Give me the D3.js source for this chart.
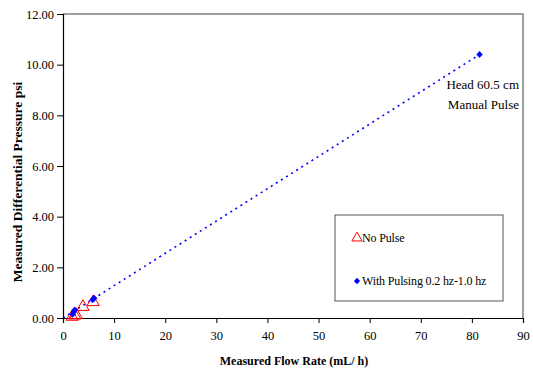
<!DOCTYPE html>
<html>
<head>
<meta charset="utf-8">
<script src="https://cdn.jsdelivr.net/npm/d3@7/dist/d3.min.js"></script>
<style>
  html, body { margin: 0; padding: 0; background: #fff; }
  svg { display: block; }
  text { font-family: "Liberation Serif", "Times New Roman", serif; fill: #000; }
</style>
</head>
<body>
<svg id="chart" width="533" height="374"></svg>
<script>
// Measured flow rate (mL/h) vs differential pressure (psi)
const noPulseX = [1.8, 2.3, 2.6, 3.9, 5.9];
const noPulseY = [0.05, 0.10, 0.12, 0.44, 0.63];
const pulseX = [1.9, 2.1, 2.3, 5.8, 6.1, 81.5];
const pulseY = [0.15, 0.24, 0.32, 0.72, 0.78, 10.40];
// Linear trend through the pulsed series
const trendX = [0, 81.5];
const trendY = [0, 10.40];

const xTicks = [0, 10, 20, 30, 40, 50, 60, 70, 80, 90];
const yTicks = [0, 2, 4, 6, 8, 10, 12];

const legendLabels = ["No Pulse", "With Pulsing 0.2 hz-1.0 hz"];
const noteLines = ["Head 60.5 cm", "Manual Pulse"];

const svg = d3.select("#chart");
const m = { left: 63, right: 523, top: 14, bottom: 318 };

const x = d3.scaleLinear().domain([0, 90]).range([m.left, m.right]);
const y = d3.scaleLinear().domain([0, 12]).range([m.bottom, m.top]);

// top and right frame
svg.append("path")
  .attr("d", `M${m.left},${m.top}H${m.right}V${m.bottom}`)
  .attr("fill", "none")
  .attr("stroke", "#808080")
  .attr("stroke-width", 1.5);

// axes
const xAxis = svg.append("g")
  .attr("transform", `translate(0,${m.bottom})`)
  .call(d3.axisBottom(x).tickValues(xTicks).tickSize(5).tickPadding(8).tickFormat(d3.format("d")));
const yAxis = svg.append("g")
  .attr("transform", `translate(${m.left},0)`)
  .call(d3.axisLeft(y).tickValues(yTicks).tickSize(6).tickPadding(3).tickFormat(d3.format(".2f")));

[xAxis, yAxis].forEach(g => {
  g.select(".domain").attr("stroke", "#000").attr("stroke-width", 1.2);
  g.selectAll(".tick line").attr("stroke", "#000");
  g.selectAll(".tick text")
    .style("font-family", '"Liberation Serif", serif')
    .style("font-size", "12.5px")
    .attr("fill", "#000");
});

// trend line
svg.append("path")
  .datum(trendX.map((v, i) => [v, trendY[i]]))
  .attr("d", d3.line().x(d => x(d[0])).y(d => y(d[1])))
  .attr("fill", "none")
  .attr("stroke", "#0000ff")
  .attr("stroke-width", 1.6)
  .attr("stroke-dasharray", "2,4");

// no-pulse triangles
const tri = d3.symbol().type(d3.symbolTriangle).size(65);
svg.append("g").selectAll("path")
  .data(noPulseX.map((v, i) => [v, noPulseY[i]]))
  .join("path")
  .attr("d", tri)
  .attr("transform", d => `translate(${x(d[0])},${y(d[1])})`)
  .attr("fill", "none")
  .attr("stroke", "#ff0000")
  .attr("stroke-width", 1);

// pulsed diamonds
const dia = d3.symbol().type(d3.symbolDiamond2).size(26);
svg.append("g").selectAll("path")
  .data(pulseX.map((v, i) => [v, pulseY[i]]))
  .join("path")
  .attr("d", dia)
  .attr("transform", d => `translate(${x(d[0])},${y(d[1])}) scale(1,1.1)`)
  .attr("fill", "#0000ff");

// annotation
svg.append("text")
  .attr("text-anchor", "end")
  .style("font-size", "13px")
  .selectAll("tspan")
  .data(noteLines)
  .join("tspan")
  .attr("x", 519)
  .attr("y", (d, i) => 89 + i * 20)
  .text(d => d);

// legend
const lg = svg.append("g");
lg.append("rect")
  .attr("x", 335).attr("y", 215).attr("width", 168).attr("height", 86)
  .attr("fill", "#fff").attr("stroke", "#555").attr("stroke-width", 1);
lg.append("path")
  .attr("d", d3.symbol().type(d3.symbolTriangle).size(45))
  .attr("transform", "translate(357,238)")
  .attr("fill", "none").attr("stroke", "#ff0000").attr("stroke-width", 1);
lg.append("path")
  .attr("d", d3.symbol().type(d3.symbolDiamond2).size(24))
  .attr("transform", "translate(357,281) scale(1,1.1)")
  .attr("fill", "#0000ff");
lg.selectAll("text.lbl")
  .data(legendLabels)
  .join("text")
  .attr("class", "lbl")
  .attr("x", 362)
  .attr("y", (d, i) => 242 + i * 43)
  .style("font-size", "12px")
  .style("letter-spacing", "-0.15px")
  .text(d => d);

// axis titles
svg.append("text")
  .attr("x", 294).attr("y", 365)
  .attr("text-anchor", "middle")
  .style("font-size", "12px")
  .style("font-weight", "bold")
  .text("Measured Flow Rate (mL/ h)");
svg.append("text")
  .attr("transform", "translate(22,182) rotate(-90)")
  .attr("text-anchor", "middle")
  .style("font-size", "13.5px")
  .style("font-weight", "bold")
  .text("Measured Differential Pressure psi");
</script>
</body>
</html>
